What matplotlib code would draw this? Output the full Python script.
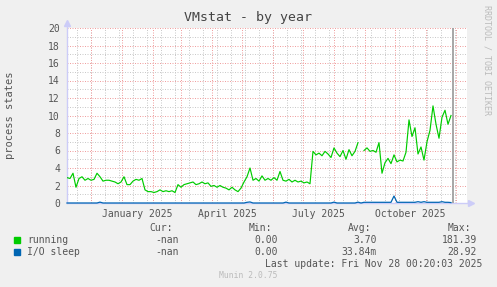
import matplotlib
matplotlib.use('Agg')
import matplotlib.pyplot as plt
import numpy as np
import pandas as pd
from matplotlib.patches import Rectangle

nan = np.nan

# both series every 3 days from the left edge
start_day = '2024-11-07'
step_days = 3
running = [2.9, 2.8, 3.4, 1.8, 2.8, 3.0, 2.6, 2.8, 2.6, 2.7,
           3.4, 3.0, 2.5, 2.6, 2.6, 2.5, 2.4, 2.2, 2.4, 3.0,
           2.1, 2.1, 2.5, 2.7, 2.6, 2.8, 1.5, 1.3, 1.3, 1.2,
           1.3, 1.5, 1.3, 1.4, 1.3, 1.4, 1.2, 2.1, 1.8, 2.1,
           2.2, 2.3, 2.4, 2.1, 2.2, 2.4, 2.2, 2.3, 1.9, 2.0,
           1.8, 2.0, 1.8, 1.7, 1.5, 1.8, 1.5, 1.3, 1.7, 2.4,
           3.0, 4.0, 2.6, 2.8, 2.5, 3.1, 2.6, 2.8, 2.6, 2.9,
           2.6, 3.6, 2.6, 2.5, 2.7, 2.4, 2.6, 2.4, 2.5, 2.3,
           2.4, 2.2, 5.9, 5.5, 5.7, 5.4, 5.9, 5.6, 5.2, 6.3,
           5.7, 5.3, 6.0, 5.0, 6.1, 5.4, 5.9, 6.9, nan, 6.0,
           6.3, 5.9, 6.0, 5.8, 6.9, 3.4, 4.6, 5.1, 4.5, 5.5,
           4.7, 4.9, 4.8, 5.8, 9.5, 7.6, 8.6, 5.6, 6.4, 4.9,
           7.0, 8.3, 11.1, 9.0, 7.4, 9.8, 10.6, 9.0, 10.0]
io_sleep = [0, 0, 0, 0, 0, 0, 0, 0, 0, 0,
            0, 0.1, 0, 0, 0, 0, 0, 0, 0, 0,
            0, 0, 0, 0, 0, 0, 0, 0, 0, 0,
            0, 0, 0, 0, 0, 0, 0, 0, 0, 0,
            0, 0, 0, 0, 0, 0, 0, 0, 0, 0,
            0, 0, 0, 0, 0, 0, 0, 0, 0, 0,
            0.08, 0.12, 0, 0, 0, 0, 0, 0, 0, 0,
            0, 0, 0, 0.1, 0, 0, 0, 0, 0, 0,
            0, 0, 0, 0, 0, 0, 0, 0, 0, 0.1,
            0, 0, 0, 0, 0, 0, 0, 0.1, 0, 0.08,
            0.08, 0.08, 0.08, 0.08, 0.08, 0.08, 0.08, 0.08, 0.08, 0.8,
            0.08, 0.08, 0.08, 0.08, 0.08, 0.08, 0.08, 0.15, 0.08, 0.15,
            0.08, 0.08, 0.08, 0.08, 0.08, 0.15, 0.08, 0.08, 0.05]

x_start = pd.Timestamp('2024-11-07')
x_end = pd.Timestamp('2025-12-12')
now = pd.Timestamp('2025-11-28 00:20')
label_days = ['2025-01-16', '2025-04-16', '2025-07-16', '2025-10-16']
label_text = ['January 2025', 'April 2025', 'July 2025', 'October 2025']

names = ['running', 'I/O sleep']
colors = ['#00CC00', '#0066B3']
cur = ['-nan', '-nan']
mins = ['0.00', '0.00']
avgs = ['3.70', '33.84m']
maxs = ['181.39', '28.92']

W, H = 497, 287
def fx(px):
    return px / W
def fy(py):
    return 1 - py / H

mono = 'DejaVu Sans Mono'
txt = '#555555'
minor_c = '#CACACA'
major_c = '#F0A0A0'
dots = (0, (1, 1.5))
gw = 0.72

fig = plt.figure(figsize=(W / 100, H / 100), dpi=100, facecolor='#F0F0F0')
ax = fig.add_axes([fx(67), fy(203), 400 / W, 175 / H])
ax.set_facecolor('white')
for s in ax.spines.values():
    s.set_visible(False)

dates = pd.date_range(start_day, periods=len(running), freq=f'{step_days}D')

# dotted grid like rrdtool
for d in pd.date_range('2024-11-17', x_end, freq='14D'):
    ax.axvline(d, color=minor_c, lw=gw, ls=dots, zorder=1)
for d in pd.date_range('2024-12-01', x_end, freq='MS'):
    ax.axvline(d, color=major_c, lw=gw, ls=dots, zorder=1.5)
for v in range(1, 20, 2):
    ax.axhline(v, color=minor_c, lw=gw, ls=dots, zorder=1)
for v in range(2, 21, 2):
    ax.axhline(v, color=major_c, lw=gw, ls=dots, zorder=1.5)

ax.set_xlim(x_start, x_end)
ax.set_ylim(0, 20)

# axes with arrows
axis_c = '#CCCCF8'
ax.plot([x_start, x_start], [0, 20.6], color=axis_c, lw=1, clip_on=False, zorder=2)
ax.plot([x_start], [20.6], marker='^', ms=5, color=axis_c, clip_on=False, zorder=2)
ax.plot([x_start, x_end + pd.Timedelta(days=3)], [0, 0], color=axis_c, lw=1,
        clip_on=False, zorder=2)
ax.plot([x_end + pd.Timedelta(days=4)], [0], marker='>', ms=5, color=axis_c,
        clip_on=False, zorder=2)

ax.axvline(now, color='#A0A0A0', lw=1.3, zorder=3)

ax.plot(dates, running, color=colors[0], lw=0.85, zorder=4)
ax.plot(dates, io_sleep, color=colors[1], lw=0.9, zorder=4, clip_on=False)

ax.set_yticks(range(0, 21, 2))
ax.set_yticklabels([str(v) for v in range(0, 21, 2)], family=mono, fontsize=7, color=txt)
ax.set_xticks(pd.to_datetime(label_days))
ax.set_xticklabels(label_text, family=mono, fontsize=7, color=txt)
ax.tick_params(axis='y', length=0, pad=5)
ax.tick_params(axis='x', length=0, pad=4)

fig.text(fx(248), fy(18), 'VMstat - by year', family=mono, fontsize=9.5,
         color='#444444', ha='center', va='center')
fig.text(fx(10), fy(115), 'process states', family=mono, fontsize=7.5,
         color=txt, rotation=90, ha='center', va='center')
fig.text(fx(487), fy(5), 'RRDTOOL / TOBI OETIKER', family=mono, fontsize=6,
         color='#BBBBBB', rotation=270, ha='center', va='top')

# legend block
cols = [179, 278, 377, 477]
heads = ['Cur:', 'Min:', 'Avg:', 'Max:']
for c, h in zip(cols, heads):
    fig.text(fx(c - 6), fy(228), h, family=mono, fontsize=7, color=txt,
             ha='right', va='center')
for i, name in enumerate(names):
    y = 240 + 12 * i
    fig.patches.append(Rectangle((fx(14), fy(y + 3)), 6 / W, 6 / H,
                                 transform=fig.transFigure, color=colors[i]))
    fig.text(fx(27), fy(y), name, family=mono, fontsize=7, color=txt, va='center')
    for c, val in zip(cols, [cur[i], mins[i], avgs[i], maxs[i]]):
        fig.text(fx(c), fy(y), val, family=mono, fontsize=7, color=txt,
                 ha='right', va='center')
fig.text(fx(482), fy(264), 'Last update: Fri Nov 28 00:20:03 2025', family=mono,
         fontsize=7, color=txt, ha='right', va='center')
fig.text(fx(248), fy(276), 'Munin 2.0.75', family=mono, fontsize=5.8,
         color='#BBBBBB', ha='center', va='center')

fig.savefig('out.png', dpi=100, facecolor=fig.get_facecolor())
